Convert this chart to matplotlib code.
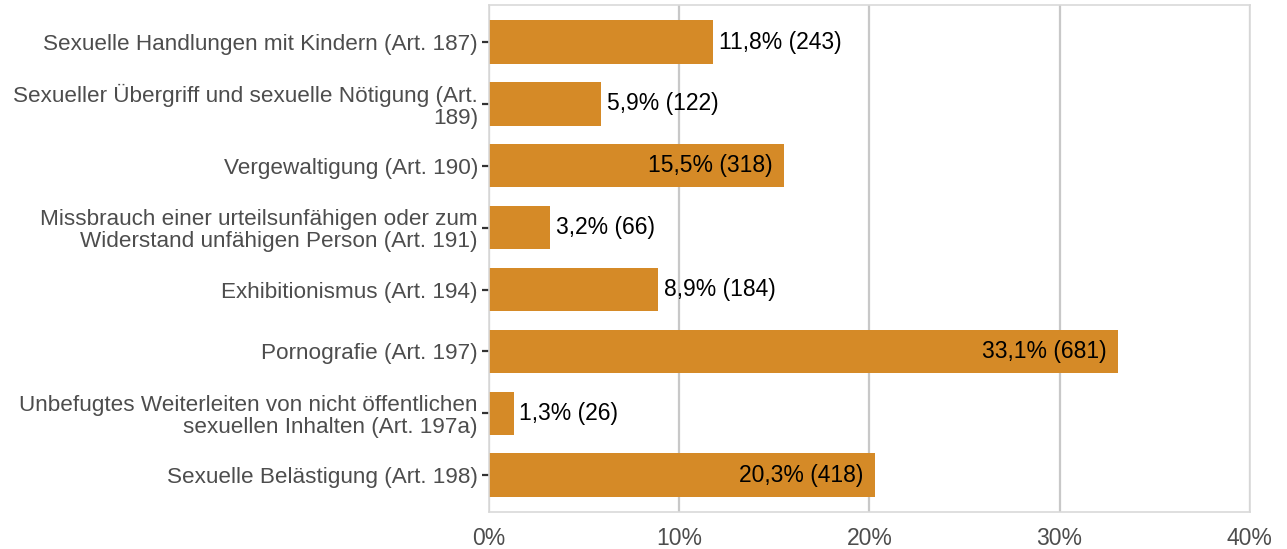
import matplotlib.pyplot as plt

plt.rcParams['font.family'] = ['Liberation Sans', 'DejaVu Sans']

# Daten
kategorien = [
    'Sexuelle Handlungen mit Kindern (Art. 187)',
    'Sexueller Übergriff und sexuelle Nötigung (Art.\n189)',
    'Vergewaltigung (Art. 190)',
    'Missbrauch einer urteilsunfähigen oder zum\nWiderstand unfähigen Person (Art. 191)',
    'Exhibitionismus (Art. 194)',
    'Pornografie (Art. 197)',
    'Unbefugtes Weiterleiten von nicht öffentlichen\nsexuellen Inhalten (Art. 197a)',
    'Sexuelle Belästigung (Art. 198)',
]
anteile = [11.8, 5.9, 15.5, 3.2, 8.9, 33.1, 1.3, 20.3]
anzahl = [243, 122, 318, 66, 184, 681, 26, 418]
x_ticks = [0, 10, 20, 30, 40]

fig = plt.figure(figsize=(12.87, 5.49), dpi=100)
ax = fig.add_axes([0.380, 0.067, 0.591, 0.924])

pos = list(range(len(kategorien)))
ax.barh(pos, anteile, height=0.7, color='#D58A27', zorder=2)

# Beschriftung: große Balken innen, kleine außen
for y, p, n in zip(pos, anteile, anzahl):
    txt = f'{p:.1f}%'.replace('.', ',') + f' ({n})'
    if p > 15:
        ax.text(p - 0.6, y, txt, ha='right', va='center', fontsize=16.5, color='black', zorder=3)
    else:
        ax.text(p + 0.3, y, txt, ha='left', va='center', fontsize=16.5, color='black', zorder=3)

ax.set_xlim(0, 40)
ax.set_ylim(len(kategorien) - 0.4, -0.6)
ax.set_yticks(pos)
ax.set_yticklabels(kategorien, fontsize=16.2, color='#4D4D4D', linespacing=1.05)
ax.set_xticks(x_ticks)
ax.set_xticklabels([f'{t}%' for t in x_ticks], fontsize=16.5, color='#4D4D4D')

ax.tick_params(axis='x', length=0, pad=11)
ax.tick_params(axis='y', length=5, width=1.6, color='#333333', pad=3)

ax.grid(axis='x', color='#C8C8C8', linewidth=1.6, zorder=0)
for s in ax.spines.values():
    s.set_color('#D9D9D9')
    s.set_linewidth(1.2)

plt.savefig('out.png', dpi=100)
